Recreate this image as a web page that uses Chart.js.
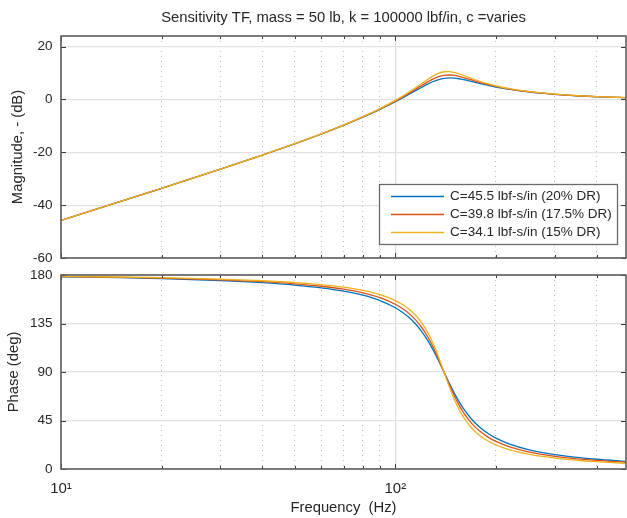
<!DOCTYPE html>
<html><head><meta charset="utf-8">
<script src="https://cdn.jsdelivr.net/npm/chart.js@4"></script>
<style>
html,body{margin:0;padding:0;background:#fff;}
#wrap{position:relative;width:627px;height:518px;overflow:hidden;}
canvas{position:absolute;left:0;}
</style></head><body>
<div id="wrap">
<canvas id="c1" width="627" height="272" style="top:0"></canvas>
<canvas id="c2" width="627" height="253" style="top:265px"></canvas>
</div>
<script>
// ---- data ----
const freqHz = [10,15,20,30,40,50,60,70,80,90,100,105,110,115,120,125,130,135,140,145,150,155,160,170,180,190,200,220,250,300,350,400,490];
const mag20  = [-45.78,-38.69,-33.62,-26.37,-21.07,-16.79,-13.12,-9.82,-6.74,-3.78,-0.89,0.54,1.95,3.32,4.61,5.79,6.78,7.52,7.97,8.13,8.06,7.83,7.50,6.72,5.96,5.28,4.69,3.77,2.82,1.89,1.36,1.02,0.67];
const mag175 = [-45.78,-38.69,-33.62,-26.36,-21.05,-16.77,-13.08,-9.75,-6.63,-3.61,-0.62,0.88,2.38,3.87,5.31,6.64,7.79,8.64,9.13,9.25,9.08,8.72,8.26,7.27,6.36,5.59,4.93,3.93,2.92,1.94,1.39,1.05,0.69];
const mag15  = [-45.78,-38.69,-33.61,-26.35,-21.04,-16.75,-13.04,-9.69,-6.53,-3.46,-0.37,1.20,2.80,4.41,6.01,7.55,8.90,9.92,10.47,10.53,10.21,9.67,9.05,7.82,6.75,5.87,5.16,4.07,3.01,1.99,1.42,1.07,0.70];
const phase20  = [178.35,177.51,176.66,174.86,172.90,170.69,168.12,165.04,161.22,156.28,149.66,145.46,140.47,134.55,127.54,119.36,110.08,100.01,89.69,79.75,70.68,62.74,55.98,45.51,38.10,32.72,28.69,23.11,18.04,13.40,10.77,9.05,7.08];
const phase175 = [178.56,177.83,177.07,175.50,173.78,171.84,169.57,166.84,163.43,158.97,152.89,148.94,144.17,138.37,131.29,122.73,112.67,101.41,89.65,78.32,68.16,59.51,52.35,41.69,34.45,29.35,25.59,20.47,15.91,11.78,9.45,7.94,6.21];
const phase15  = [178.76,178.14,177.49,176.14,174.66,172.99,171.04,168.67,165.69,161.76,156.30,152.69,148.25,142.70,135.69,126.87,115.98,103.24,89.59,76.44,64.94,55.51,48.01,37.36,30.46,25.73,22.32,17.75,13.73,10.13,8.12,6.81,5.33];
const seriesLabels = ['C=45.5 lbf-s/in (20% DR)','C=39.8 lbf-s/in (17.5% DR)','C=34.1 lbf-s/in (15% DR)'];
const seriesColors = ['#0072BD','#D95319','#EDB120'];
const xGridTicks = [10,20,30,40,50,60,70,80,90,100,200,300,400];
const xMajorTicks = [10,100];
const xTickLabels = {10:'10\u00B9',100:'10\u00B2'};
const magTicks = [-60,-40,-20,0,20];
const phaseTicks = [0,45,90,135,180];
const titleText = 'Sensitivity TF, mass = 50 lb, k = 100000 lbf/in, c =varies';

const FONT = "'Liberation Sans', Arial, Helvetica, sans-serif";
const TXT = '#262626';
const TICK_FS = 13.5, LABEL_FS = 14.8;
Chart.defaults.font.family = FONT;
Chart.defaults.color = TXT;

function toPts(ys){ return freqHz.map((f,i)=>({x:f,y:ys[i]})); }
function mkDatasets(arrs){
  return arrs.map((a,i)=>({
    label: seriesLabels[i], data: toPts(a), borderColor: seriesColors[i],
    backgroundColor: seriesColors[i], borderWidth: 1.3, pointRadius: 0,
    cubicInterpolationMode: 'monotone', fill:false, order: 2 - i
  }));
}
function xScale(showLabels){
  return {
    type:'logarithmic', min:10, max:490,
    afterBuildTicks: s => { s.ticks = xGridTicks.map(v=>({value:v, major: xMajorTicks.includes(v)})); },
    afterFit: s => { s.height = showLabels ? 49 : 14; s.paddingLeft = 0; s.paddingRight = 0; },
    grid: { drawTicks:false,
      color: c => (c.tick && xMajorTicks.includes(c.tick.value)) ? '#dcdcdc' : '#bdbdbd',
      lineWidth: c => (c.tick && xMajorTicks.includes(c.tick.value)) ? 1.2 : 1 },
    border: { display:false, dash: c => (c.tick && xMajorTicks.includes(c.tick.value)) ? [] : [1,4] },
    ticks: { display: showLabels, autoSkip:false, maxRotation:0, padding: 11,
      font:{size:15}, color:TXT, callback: v => xTickLabels[v] || '' },
    title: { display: showLabels, text:'Frequency  (Hz)', font:{size:LABEL_FS}, color:TXT, padding:{top:0,bottom:1.1} }
  };
}
function yScale(min,max,tks,title,titlePad){
  return {
    type:'linear', min:min, max:max,
    afterBuildTicks: s => { s.ticks = tks.map(v=>({value:v})); },
    afterFit: s => { s.width = 61; s.paddingTop = 0; s.paddingBottom = 0; },
    grid: { drawTicks:false, color:'#e2e2e2', lineWidth:1.2 },
    border: { display:false },
    ticks: { padding: 8.5, font:{size:TICK_FS}, color:TXT },
    title: { display:true, text:title, font:{size:LABEL_FS}, color:TXT, padding:{top:titlePad,bottom:0} }
  };
}
const frame = {
  id:'frame',
  afterDatasetsDraw(chart, args, opts){
    const {ctx, chartArea:a, scales} = chart;
    ctx.save();
    ctx.strokeStyle = '#3a3a3a'; ctx.lineWidth = 1;
    const seg = (x1,y1,x2,y2)=>{ ctx.beginPath(); ctx.moveTo(x1,y1); ctx.lineTo(x2,y2); ctx.stroke(); };
    scales.x.ticks.forEach(t=>{
      const px = Math.round(scales.x.getPixelForValue(t.value)) + 0.5;
      const len = t.major ? 5 : 3;
      seg(px, a.bottom, px, a.bottom - len); seg(px, a.top, px, a.top + len);
    });
    scales.y.ticks.forEach(t=>{
      const py = Math.round(scales.y.getPixelForValue(t.value)) + 0.5;
      seg(a.left, py, a.left + 5, py); seg(a.right, py, a.right - 5, py);
    });
    ctx.strokeStyle = '#5e5e5e'; ctx.lineWidth = 1.6;
    ctx.strokeRect(a.left, a.top, a.right - a.left, a.bottom - a.top);
    if (opts.title) {
      ctx.font = LABEL_FS + "px " + FONT; ctx.textAlign = 'center'; ctx.textBaseline = 'middle';
      ctx.fillStyle = TXT; ctx.fillText(opts.title, (a.left + a.right) / 2, a.top - 18);
    }
    if (opts.legend) {
      const w = 238, h = 60;
      const lx = a.right - 9 - w, ly = a.bottom - 14 - h;
      ctx.fillStyle = '#fff'; ctx.fillRect(lx, ly, w, h);
      ctx.strokeStyle = '#6a6a6a'; ctx.lineWidth = 1.3; ctx.strokeRect(lx+0.5, ly+0.5, w, h);
      ctx.font = TICK_FS + "px " + FONT; ctx.textBaseline = 'middle'; ctx.textAlign = 'left';
      chart.data.datasets.forEach((d,i)=>{
        const yy = ly + 12.5 + i*18;
        ctx.strokeStyle = d.borderColor; ctx.lineWidth = 1.6;
        seg(lx + 12, yy, lx + 65, yy);
        ctx.fillStyle = TXT; ctx.fillText(d.label, lx + 71, yy);
      });
    }
    ctx.restore();
  }
};

new Chart(document.getElementById('c1'), {
  type:'line',
  data:{ datasets: mkDatasets([mag20, mag175, mag15]) },
  options:{
    responsive:false, animation:false, events:[],
    layout:{ padding:{left:0,right:1,top:36,bottom:0} },
    scales:{ x: xScale(false), y: yScale(-60,24,magTicks,'Magnitude, - (dB)',8.6) },
    plugins:{ legend:{display:false}, tooltip:{enabled:false}, title:{display:false},
      frame:{ legend:true, title: titleText } }
  },
  plugins:[frame]
});
new Chart(document.getElementById('c2'), {
  type:'line',
  data:{ datasets: mkDatasets([phase20, phase175, phase15]) },
  options:{
    responsive:false, animation:false, events:[],
    layout:{ padding:{left:0,right:1,top:10,bottom:0} },
    scales:{ x: xScale(true), y: yScale(0,180,phaseTicks,'Phase (deg)',5.1) },
    plugins:{ legend:{display:false}, tooltip:{enabled:false}, title:{display:false}, frame:{ legend:false } }
  },
  plugins:[frame]
});
</script>
</body></html>
